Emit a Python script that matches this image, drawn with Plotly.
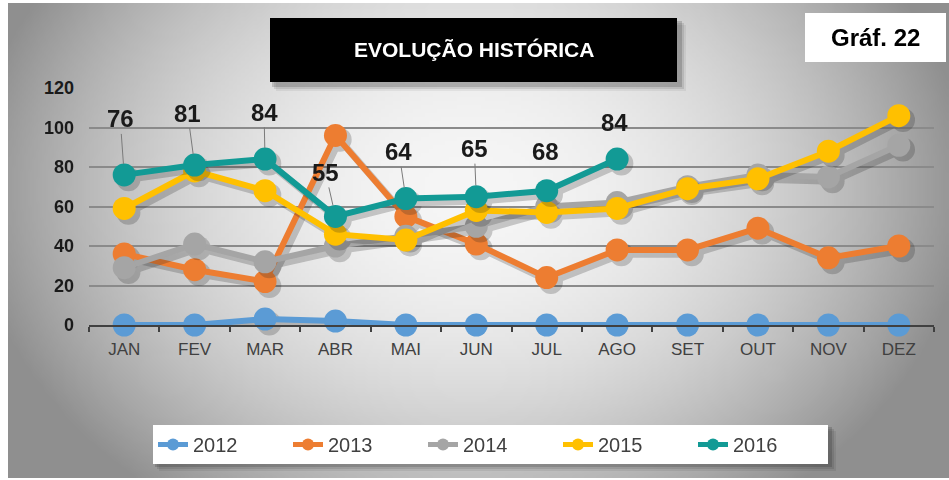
import base64
import struct
import zlib

import plotly.graph_objects as go

# ---------------- data ----------------
months = ["JAN", "FEV", "MAR", "ABR", "MAI", "JUN", "JUL", "AGO", "SET", "OUT", "NOV", "DEZ"]
s2012 = [0, 0, 3, 2, 0, 0, 0, 0, 0, 0, 0, 0]
s2013 = [36, 28, 22, 96, 55, 41, 24, 38, 38, 49, 34, 40]
s2014 = [29, 41, 32, 40, 45, 50, 60, 62, 70, 76, 75, 91]
s2015 = [59, 78, 68, 46, 43, 58, 57, 59, 69, 74, 88, 106]
s2016 = [76, 81, 84, 55, 64, 65, 68, 84]
series_names = ["2012", "2013", "2014", "2015", "2016"]
y_ticks = [0, 20, 40, 60, 80, 100, 120]

# ---------------- styles ----------------
colors = ["#5B9BD5", "#ED7D31", "#A5A5A5", "#FFC000", "#129A95"]
# pixel offsets (ax, ay) of the 2016 data labels and whether a leader line shows
label_offsets = [(-4, -56), (-7, -52), (-1, -47), (-10, -44), (-7, -47), (-2, -48), (-1, -39), (-3, -37)]
label_leader = [True, True, True, True, True, True, False, False]

W, H = 949, 480
L, R, T, B = 89, 15, 88, 155
PW, PH = W - L - R, H - T - B


def px(x):
    return (x - L) / PW


def py(y):
    return (H - B - y) / PH


def png_gray(w, h, func):
    raw = b"".join(b"\x00" + bytes(func(x, y) for x in range(w)) for y in range(h))

    def chunk(t, d):
        c = struct.pack(">I", len(d)) + t + d
        return c + struct.pack(">I", zlib.crc32(t + d) & 0xFFFFFFFF)

    return (b"\x89PNG\r\n\x1a\n" + chunk(b"IHDR", struct.pack(">IIBBBBB", w, h, 8, 0, 0, 0, 0))
            + chunk(b"IDAT", zlib.compress(raw, 9)) + chunk(b"IEND", b""))


# radial grey background
BX0, BY0, BX1, BY1 = 8, 3, 949, 478
GW, GH = 236, 119


def grad(ix, iy):
    X = BX0 + (ix + 0.5) * (BX1 - BX0) / GW
    Y = BY0 + (iy + 0.5) * (BY1 - BY0) / GH
    dx = (X - 470) / 500
    dy = (Y - 190) / 390
    f = min(dx * dx + dy * dy, 1.0)
    return int(246 - (246 - 143) * f)


bg_src = "data:image/png;base64," + base64.b64encode(png_gray(GW, GH, grad)).decode()

fig = go.Figure()
xs = list(range(len(months)))
all_series = [s2012, s2013, s2014, s2015, s2016]
for name, vals, col in zip(series_names, all_series, colors):
    xv = xs[:len(vals)]
    # drop shadow
    fig.add_trace(go.Scatter(
        x=[v + 0.06 for v in xv], y=[v - 2.2 for v in vals], mode="lines+markers",
        line=dict(color="#202020", width=7), marker=dict(size=24, color="#202020"),
        opacity=0.22, showlegend=False, hoverinfo="skip", cliponaxis=False))
    fig.add_trace(go.Scatter(
        x=xv, y=vals, name=name, mode="lines+markers",
        line=dict(color=col, width=6), marker=dict(size=23, color=col),
        cliponaxis=False))

annotations = []
for i, v in enumerate(s2016):
    ax, ay = label_offsets[i]
    annotations.append(dict(
        x=i, y=v, xref="x", yref="y", text=str(v), showarrow=True, arrowhead=0,
        arrowwidth=1, arrowcolor="#7a7a7a" if label_leader[i] else "rgba(0,0,0,0)",
        standoff=11, ax=ax, ay=ay,
        font=dict(family="Liberation Sans, Arial", size=24, color="#1a1a1a", weight="bold")))

# title box and "Gráf. 22" box
annotations.append(dict(
    x=px(473.5), y=py(50), xref="paper", yref="paper", showarrow=False,
    text="EVOLUÇÃO HISTÓRICA", xanchor="center", yanchor="middle",
    font=dict(family="Liberation Sans, Arial", size=21, color="white", weight="bold")))
annotations.append(dict(
    x=px(875.5), y=py(38), xref="paper", yref="paper", showarrow=False,
    text="Gráf. 22", xanchor="center", yanchor="middle",
    font=dict(family="Liberation Sans, Arial", size=24, color="black", weight="bold")))

shapes = []
for k, a in ((9, 0.06), (7, 0.10), (5, 0.16)):
    shapes.append(dict(type="rect", xref="paper", yref="paper", layer="above",
                       x0=px(270 + k - 3), x1=px(677 + k), y0=py(18 + k - 2), y1=py(82 + k),
                       line=dict(width=0), fillcolor=f"rgba(0,0,0,{a})"))
shapes.append(dict(type="rect", xref="paper", yref="paper", layer="above",
                   x0=px(270), x1=px(677), y0=py(18), y1=py(82),
                   line=dict(width=0), fillcolor="black"))
shapes.append(dict(type="rect", xref="paper", yref="paper", layer="above",
                   x0=px(805), x1=px(946), y0=py(13), y1=py(62),
                   line=dict(width=0), fillcolor="white"))
# legend shadow
for k, a in ((8, 0.07), (6, 0.10), (4, 0.15)):
    shapes.append(dict(type="rect", xref="paper", yref="paper", layer="above",
                       x0=px(153 + k - 2), x1=px(828 + k), y0=py(425 + k - 2), y1=py(463 + k),
                       line=dict(width=0), fillcolor=f"rgba(0,0,0,{a})"))

fig.update_layout(
    width=W, height=H,
    margin=dict(l=L, r=R, t=T, b=B, pad=0, autoexpand=False),
    paper_bgcolor="white", plot_bgcolor="rgba(0,0,0,0)",
    font=dict(family="Liberation Sans, Arial", color="#404040"),
    images=[dict(source=bg_src, xref="paper", yref="paper", x=px(BX0), y=py(BY0),
                 sizex=px(BX1) - px(BX0), sizey=py(BY0) - py(BY1), sizing="stretch",
                 xanchor="left", yanchor="top", layer="below")],
    xaxis=dict(
        range=[-0.5, 11.5], tickmode="array", tickvals=xs, ticktext=months,
        ticks="", showgrid=False, zeroline=False,
        showline=True, linecolor="#404040", linewidth=2,
        tickfont=dict(family="Liberation Sans", size=17, color="#404040"),
        ticklabelstandoff=8,
        minor=dict(tickmode="array", tickvals=[i - 0.5 for i in range(13)], ticks="outside",
                   ticklen=5, tickwidth=2, tickcolor="#404040", showgrid=False),
    ),
    yaxis=dict(
        range=[0, 120], tickmode="array", tickvals=y_ticks, ticks="",
        showgrid=True, gridcolor="#8a8a8a", gridwidth=1.5, zeroline=False, showline=False,
        tickfont=dict(family="Liberation Sans, Arial", size=18, color="#1a1a1a", weight="bold"),
        ticklabelstandoff=14,
    ),
    legend=dict(
        orientation="h", x=px(490.5), xanchor="center", y=py(425), yanchor="top",
        bgcolor="white", borderwidth=0, entrywidth=90, entrywidthmode="pixels",
        itemsizing="constant",
        font=dict(family="Liberation Sans, Arial", size=20, color="#404040"),
        itemclick=False, itemdoubleclick=False,
    ),
    annotations=annotations, shapes=shapes,
    showlegend=True,
)

fig.write_html("out.html", config={"displayModeBar": False},
               post_script="document.body.style.margin='0px';document.body.style.padding='0px';")
